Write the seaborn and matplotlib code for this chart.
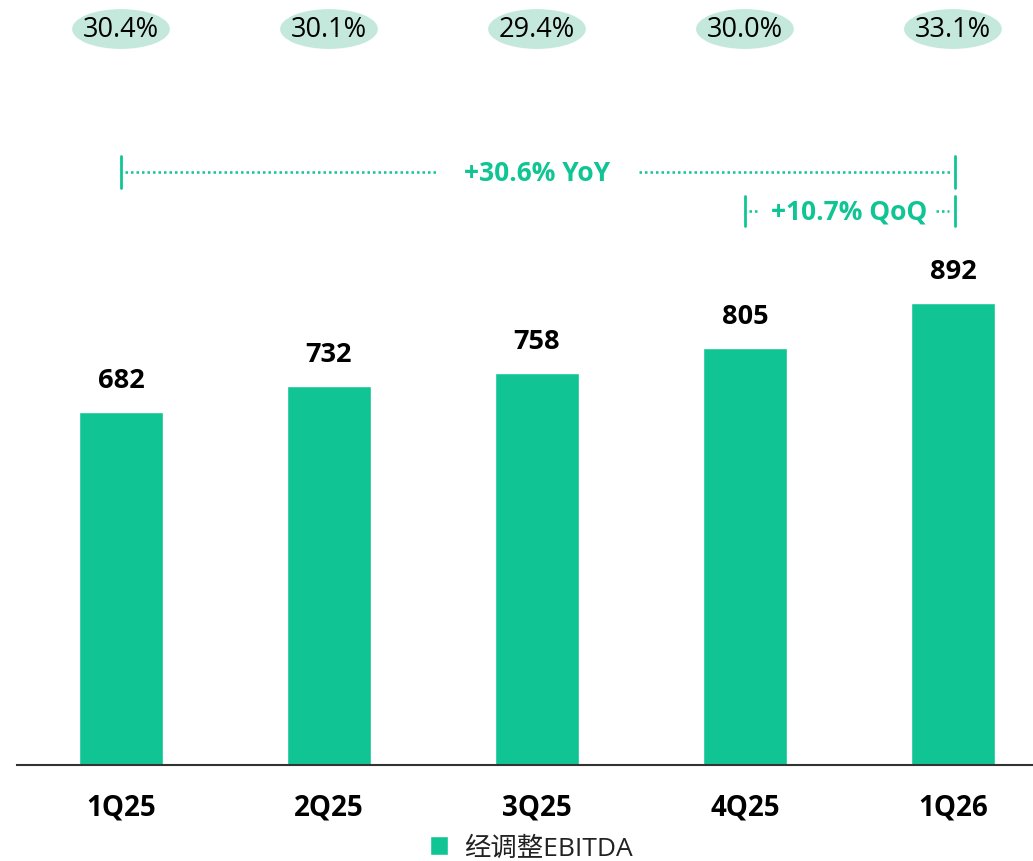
import matplotlib
matplotlib.use("Agg")
from matplotlib import pyplot as plt
from matplotlib.patches import Ellipse, Patch
import seaborn as sns

quarters = ['1Q25', '2Q25', '3Q25', '4Q25', '1Q26']
ebitda = [682, 732, 758, 805, 892]
margins = ['30.4%', '30.1%', '29.4%', '30.0%', '33.1%']
yoy_label = '+30.6% YoY'
qoq_label = '+10.7% QoQ'
legend_label = '经调整EBITDA'

green = '#10C593'
pale = '#C5E8DD'

sns.set_style('white')
plt.rcParams['font.family'] = ['Open Sans', 'Noto Sans CJK SC', 'DejaVu Sans']

fig = plt.figure(figsize=(10.33, 8.62), dpi=100)
ax = fig.add_axes([17 / 1033, 1 - 766 / 862, 1 - 17 / 1033, 766 / 862])

sns.barplot(x=quarters, y=ebitda, color=green, width=0.4, saturation=1, ax=ax)

ax.set_xlim(-0.5, 4.385)
ax.set_ylim(0, 1480)

# value labels above bars
for i, v in enumerate(ebitda):
    ax.text(i, v + 62, str(v), ha='center', va='center', fontsize=19.5,
            fontweight='bold', color='black')

# margin ellipses along the top
for i, m in enumerate(margins):
    ax.add_patch(Ellipse((i, 1422), 0.47, 77, facecolor=pale, edgecolor='none',
                         clip_on=False))
    ax.text(i, 1422, m, ha='center', va='center', fontsize=19.5, color='black')

# YoY bracket
y_yoy = 1145
ax.plot([0.02, 1.52], [y_yoy, y_yoy], color=green, lw=1.8, ls=(0, (1, 1.2)))
ax.plot([2.49, 3.99], [y_yoy, y_yoy], color=green, lw=1.8, ls=(0, (1, 1.2)))
ax.plot([0, 0], [y_yoy - 31, y_yoy + 31], color=green, lw=2)
ax.plot([4.01, 4.01], [y_yoy - 31, y_yoy + 31], color=green, lw=2)
ax.text(2, y_yoy, yoy_label, ha='center', va='center', fontsize=19,
        fontweight='bold', color=green)

# QoQ bracket
y_qoq = 1070
ax.plot([3, 3], [y_qoq - 29, y_qoq + 29], color=green, lw=2)
ax.plot([4.01, 4.01], [y_qoq - 29, y_qoq + 29], color=green, lw=2)
ax.plot([3.02, 3.06], [y_qoq, y_qoq], color=green, lw=1.8, ls=(0, (1, 1.2)))
ax.plot([3.92, 3.98], [y_qoq, y_qoq], color=green, lw=1.8, ls=(0, (1, 1.2)))
ax.text(3.5, y_qoq, qoq_label, ha='center', va='center', fontsize=19,
        fontweight='bold', color=green)

sns.despine(ax=ax, left=True)
ax.spines['bottom'].set_color('#333333')
ax.spines['bottom'].set_linewidth(1.5)
ax.set_yticks([])
ax.tick_params(axis='x', length=0, pad=20)
for lbl in ax.get_xticklabels():
    lbl.set_fontsize(20)
    lbl.set_fontweight('bold')
    lbl.set_color('black')
ax.set_xlabel('')
ax.set_ylabel('')

fig.legend(handles=[Patch(facecolor=green, label=legend_label)],
           loc='center', bbox_to_anchor=(531 / 1033, 1 - 849 / 862),
           frameon=False, fontsize=19, handlelength=0.7, handleheight=0.7,
           handletextpad=0.6, labelcolor='#222222')

fig.savefig('out.png', dpi=100)
